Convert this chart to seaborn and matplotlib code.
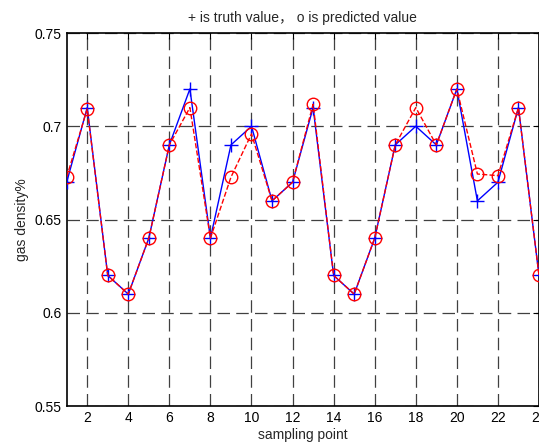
import pandas as pd
import seaborn as sns
import matplotlib.pyplot as plt

# sampling points and measured / predicted gas density
points = list(range(1, 25))
truth = [0.670, 0.710, 0.620, 0.610, 0.640, 0.690, 0.720, 0.640, 0.690, 0.700,
         0.660, 0.670, 0.710, 0.620, 0.610, 0.640, 0.690, 0.700, 0.690, 0.720,
         0.660, 0.670, 0.710, 0.620]
predicted = [0.6727, 0.7093, 0.620, 0.610, 0.640, 0.690, 0.710, 0.640, 0.6727, 0.6959,
             0.660, 0.670, 0.7118, 0.620, 0.610, 0.640, 0.690, 0.710, 0.690, 0.720,
             0.6744, 0.6735, 0.710, 0.620]
x_ticks = [2, 4, 6, 8, 10, 12, 14, 16, 18, 20, 22, 24]
y_ticks = [0.55, 0.6, 0.65, 0.7, 0.75]

df = pd.DataFrame({'point': points, 'truth': truth, 'predicted': predicted})

sns.set_style('white')
plt.rcParams['font.family'] = ['Liberation Sans', 'Noto Sans CJK SC', 'DejaVu Sans']

fig = plt.figure(figsize=(5.39, 4.43), dpi=100)
ax = fig.add_axes([0.1237, 0.0835, 0.8763, 0.842])

sns.lineplot(data=df, x='point', y='truth', ax=ax, color='blue', linewidth=1,
             marker='+', markersize=10, markeredgewidth=1, markeredgecolor='blue', zorder=3)
sns.lineplot(data=df, x='point', y='predicted', ax=ax, color='red', linewidth=1,
             linestyle='--', dashes=(7, 4), marker='o', markersize=9,
             markerfacecolor='none', markeredgecolor='red', markeredgewidth=1, zorder=4)

ax.set_xlim(1, 24)
ax.set_ylim(0.55, 0.75)
ax.set_xticks(x_ticks)
ax.set_yticks(y_ticks)
ax.set_yticklabels(['0.55', '0.6', '0.65', '0.7', '0.75'])
ax.grid(True, color='black', linestyle=(0, (10, 5)), linewidth=0.9, alpha=0.75)
ax.tick_params(direction='in', length=4, labelsize=10, colors='black', top=True, right=True)
for s in ax.spines.values():
    s.set_color('black')
    s.set_linewidth(1.2)

ax.set_title('+ is truth value， o is predicted value', fontsize=10, pad=8)
ax.set_xlabel('sampling point', fontsize=10, labelpad=2)
ax.set_ylabel('gas density%', fontsize=10)

fig.savefig('out.png', dpi=100)
